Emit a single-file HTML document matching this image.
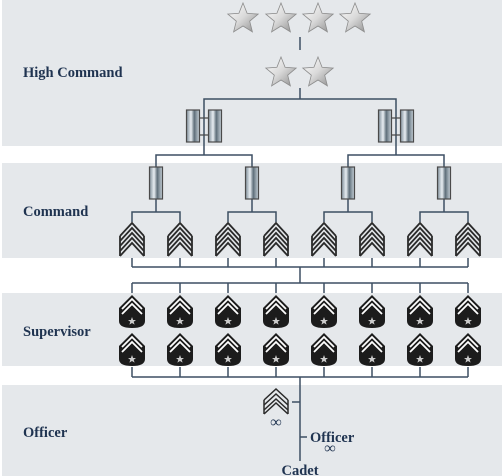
<!DOCTYPE html>
<html><head><meta charset="utf-8"><style>
html,body{margin:0;padding:0;background:#fff;}
svg{display:block}
.lb{font-family:"Liberation Serif",serif;font-weight:bold;font-size:14.5px;fill:#1f3350}
</style></head><body>
<svg width="504" height="476" viewBox="0 0 504 476" xmlns="http://www.w3.org/2000/svg">
<defs>
<linearGradient id="sg" x1="0" y1="0" x2="1" y2="1">
<stop offset="0" stop-color="#ffffff"/><stop offset="0.5" stop-color="#d9d9d9"/><stop offset="1" stop-color="#8a8a8a"/></linearGradient>
<linearGradient id="bg" x1="0" y1="0" x2="1" y2="0">
<stop offset="0" stop-color="#7f8e99"/><stop offset="0.35" stop-color="#e8eef2"/><stop offset="0.6" stop-color="#5f6f7a"/><stop offset="1" stop-color="#c9d3da"/></linearGradient>
<g id="star"><polygon points="0,-16 4.1,-5.7 15.2,-4.9 6.7,2.2 9.4,12.9 0,7 -9.4,12.9 -6.7,2.2 -15.2,-4.9 -4.1,-5.7" fill="url(#sg)" stroke="#8c8c8c" stroke-width="0.8"/></g>
<g id="bar"><rect x="-6.5" y="-16" width="13" height="32" fill="url(#bg)" stroke="#4a4a4a" stroke-width="1.2"/></g>
<g id="chev" fill="none" stroke="#2a2a2a" stroke-width="1.8">
<polyline points="-12,-3 0,-16 12,-3"/>
<polyline points="-12,2 0,-11 12,2"/>
<polyline points="-12,7 0,-6 12,7"/>
<polyline points="-12,12 0,-1 12,12"/>
<polyline points="-12,17 0,4 12,17"/>
<line x1="-12" y1="-3" x2="-12" y2="17"/><line x1="12" y1="-3" x2="12" y2="17"/>
</g>
<g id="sup">
<path d="M0,-17 L13,-4 L13,9 Q13,16 0,16 Q-13,16 -13,9 L-13,-4 Z" fill="#1c1c1c"/>
<polyline points="-10,-3 0,-13 10,-3" fill="none" stroke="#fff" stroke-width="1.8"/>
<polyline points="-10,2 0,-8 10,2" fill="none" stroke="#fff" stroke-width="1.8"/>
<polygon points="0,5 1.1,8 4,8 1.7,9.8 2.6,12.6 0,11 -2.6,12.6 -1.7,9.8 -4,8 -1.1,8" fill="#ccc"/>
</g>
</defs>
<rect x="2" y="0" width="500" height="146" fill="#e5e8eb"/>
<rect x="2" y="163" width="500" height="95" fill="#e5e8eb"/>
<rect x="2" y="293" width="500" height="73" fill="#e5e8eb"/>
<rect x="2" y="385" width="500" height="91" fill="#e5e8eb"/>
<text class="lb" x="23" y="77">High Command</text>
<text class="lb" x="23" y="216">Command</text>
<text class="lb" x="23" y="336">Supervisor</text>
<text class="lb" x="23" y="437">Officer</text>
<g stroke="#3d4f63" stroke-width="1.5" fill="none">
<line x1="300" y1="37" x2="300" y2="50"/>
<line x1="300" y1="88" x2="300" y2="99"/>
<polyline points="204,155 204,99 396,99 396,155"/>
<polyline points="156,167 156,155 252,155 252,167"/>
<polyline points="348,167 348,155 444,155 444,167"/>
<polyline points="132,222 132,212 180,212 180,222"/><line x1="156" y1="199" x2="156" y2="212"/>
<polyline points="228,222 228,212 276,212 276,222"/><line x1="252" y1="199" x2="252" y2="212"/>
<polyline points="324,222 324,212 372,212 372,222"/><line x1="348" y1="199" x2="348" y2="212"/>
<polyline points="420,222 420,212 468,212 468,222"/><line x1="444" y1="199" x2="444" y2="212"/>
<line x1="132" y1="267" x2="468" y2="267"/><line x1="300" y1="267" x2="300" y2="283"/>
<line x1="132" y1="283" x2="468" y2="283"/>
<line x1="132" y1="377" x2="468" y2="377"/><line x1="300" y1="377" x2="300" y2="461"/>
<line x1="292" y1="402" x2="300" y2="402"/><line x1="300" y1="437" x2="307" y2="437"/>
</g>
<g stroke="#3d4f63" stroke-width="1.5">
<line x1="132" y1="258" x2="132" y2="267"/><line x1="180" y1="258" x2="180" y2="267"/><line x1="228" y1="258" x2="228" y2="267"/><line x1="276" y1="258" x2="276" y2="267"/><line x1="324" y1="258" x2="324" y2="267"/><line x1="372" y1="258" x2="372" y2="267"/><line x1="420" y1="258" x2="420" y2="267"/><line x1="468" y1="258" x2="468" y2="267"/>
<line x1="132" y1="283" x2="132" y2="293"/><line x1="180" y1="283" x2="180" y2="293"/><line x1="228" y1="283" x2="228" y2="293"/><line x1="276" y1="283" x2="276" y2="293"/><line x1="324" y1="283" x2="324" y2="293"/><line x1="372" y1="283" x2="372" y2="293"/><line x1="420" y1="283" x2="420" y2="293"/><line x1="468" y1="283" x2="468" y2="293"/>
<line x1="132" y1="367" x2="132" y2="377"/><line x1="180" y1="367" x2="180" y2="377"/><line x1="228" y1="367" x2="228" y2="377"/><line x1="276" y1="367" x2="276" y2="377"/><line x1="324" y1="367" x2="324" y2="377"/><line x1="372" y1="367" x2="372" y2="377"/><line x1="420" y1="367" x2="420" y2="377"/><line x1="468" y1="367" x2="468" y2="377"/>
</g>
<use href="#star" x="243" y="19"/><use href="#star" x="281" y="19"/><use href="#star" x="318" y="19"/><use href="#star" x="355" y="19"/>
<use href="#star" x="281" y="73"/><use href="#star" x="318" y="73"/>
<g stroke="#4a4a4a" stroke-width="1.2"><line x1="193" y1="118" x2="215" y2="118"/><line x1="193" y1="135" x2="215" y2="135"/><line x1="385" y1="118" x2="407" y2="118"/><line x1="385" y1="135" x2="407" y2="135"/></g>
<use href="#bar" x="193" y="126"/><use href="#bar" x="215" y="126"/>
<use href="#bar" x="385" y="126"/><use href="#bar" x="407" y="126"/>
<use href="#bar" x="156" y="183"/><use href="#bar" x="252" y="183"/><use href="#bar" x="348" y="183"/><use href="#bar" x="444" y="183"/>
<use href="#chev" x="132" y="239"/><use href="#chev" x="180" y="239"/><use href="#chev" x="228" y="239"/><use href="#chev" x="276" y="239"/>
<use href="#chev" x="324" y="239"/><use href="#chev" x="372" y="239"/><use href="#chev" x="420" y="239"/><use href="#chev" x="468" y="239"/>
<use href="#sup" x="132" y="312"/><use href="#sup" x="180" y="312"/><use href="#sup" x="228" y="312"/><use href="#sup" x="276" y="312"/>
<use href="#sup" x="324" y="312"/><use href="#sup" x="372" y="312"/><use href="#sup" x="420" y="312"/><use href="#sup" x="468" y="312"/>
<use href="#sup" x="132" y="350"/><use href="#sup" x="180" y="350"/><use href="#sup" x="228" y="350"/><use href="#sup" x="276" y="350"/>
<use href="#sup" x="324" y="350"/><use href="#sup" x="372" y="350"/><use href="#sup" x="420" y="350"/><use href="#sup" x="468" y="350"/>
<g fill="none" stroke="#2a2a2a" stroke-width="1.5">
<polyline points="264,400 276,389 288,400"/><polyline points="264,405 276,394 288,405"/><polyline points="264,410 276,399 288,410"/>
<line x1="264" y1="400" x2="264" y2="414"/><line x1="288" y1="400" x2="288" y2="414"/>
<polyline points="264,414 276,403 288,414"/>
</g>
<text class="lb" x="276" y="427" text-anchor="middle" style="font-size:16px">∞</text>
<text class="lb" x="310" y="442">Officer</text>
<text class="lb" x="330" y="453" text-anchor="middle" style="font-size:16px">∞</text>
<text class="lb" x="300" y="475" text-anchor="middle">Cadet</text>
</svg>
</body></html>
